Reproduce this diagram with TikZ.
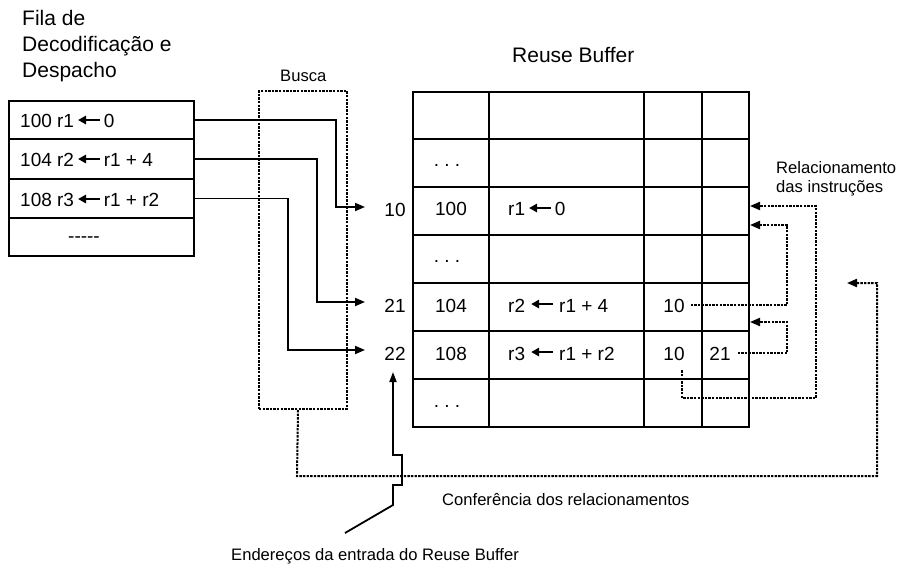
\documentclass[tikz,border=0pt]{standalone}
\usepackage{fontspec}
\setmainfont{Liberation Sans}
\usetikzlibrary{arrows.meta}
\newcommand\larr{\tikz[baseline=-0.42em]\draw[line width=1.7pt,-{Triangle[length=8pt,width=8.5pt]}] (1.15em,0)--(0,0);}
\tikzset{
  tbl/.style={line width=2pt},
  conn/.style={line width=1.8pt,-{Triangle[length=10pt,width=8pt]}},
  dotl/.style={line width=2pt,dash pattern=on 2.4pt off 1.2pt},
  dotarr/.style={dotl,-{Triangle[length=10pt,width=8pt]}},
  lbl/.style={font=\fontsize{16.6}{19.5}\selectfont,inner sep=0},
  cell/.style={font=\fontsize{19}{22}\selectfont,inner sep=0},
  ttl/.style={font=\fontsize{21}{26}\selectfont,inner sep=0},
  qrow/.style={draw,tbl,anchor=north west,minimum width=185,inner sep=0},
}
\begin{document}
\begin{tikzpicture}[x=1pt,y=-1pt]
\useasboundingbox (0,0) rectangle (899,569);
% titles
\node[ttl,align=left,anchor=north west] (fila) at (22,10) {Fila de\\Decodificação e\\Despacho};
\node[lbl,anchor=base west] (busl) at (280,82) {Busca};
\node[ttl,anchor=base west] (rbt) at (512,63) {Reuse Buffer};
\node[lbl,align=left,anchor=north west] (rel) at (776,161) {Relacionamento\\das instruções};
\node[lbl,anchor=base west] (conf) at (442,505) {Conferência dos relacionamentos};
\node[lbl,anchor=base west] (endr) at (231,560) {Endereços da entrada do Reuse Buffer};

% queue
\node[qrow,minimum height=38] (q1) at (8,100) {};
\node[qrow,minimum height=40] (q2) at (8,138) {};
\node[qrow,minimum height=39] (q3) at (8,178) {};
\node[qrow,minimum height=38] (q4) at (8,217) {};
\node[cell,anchor=base west] (q1t) at (20,128) {100 r1\,\larr\hspace{3pt}0};
\node[cell,anchor=base west] (q2t) at (20,167) {104 r2\,\larr\hspace{3pt}r1 + 4};
\node[cell,anchor=base west] (q3t) at (20,207) {108 r3\,\larr\hspace{3pt}r1 + r2};
\node[cell,anchor=base] (q4t) at (84,243) {-{}-{}-{}-{}-};

% busca box
\node[dotl,draw,anchor=north west,minimum width=88,minimum height=318,inner sep=0] (busca) at (258,90) {};

% reuse buffer table
\draw[tbl] (413,92) rectangle (749,427);
\foreach \yy in {139,187,235,283,331,379} \draw[tbl] (413,\yy) -- (749,\yy);
\foreach \xx in {489,644,702} \draw[tbl] (\xx,92) -- (\xx,427);

% entry addresses
\node[cell,anchor=base] (l10) at (395,217) {10};
\node[cell,anchor=base] (l21) at (395,312) {21};
\node[cell,anchor=base] (l22) at (395,360) {22};

% table contents
\node[cell,anchor=base] (d2) at (447,167) {.\ .\ .};
\node[cell,anchor=base] (c31) at (451,216) {100};
\node[cell,anchor=base west] (c32) at (508,216) {r1\,\larr\hspace{3pt}0};
\node[cell,anchor=base] (d4) at (447,262) {.\ .\ .};
\node[cell,anchor=base] (c51) at (451,312) {104};
\node[cell,anchor=base west] (c52) at (508,312) {r2 \larr{} r1 + 4};
\node[cell,anchor=base] (c53) at (674,312) {10};
\node[cell,anchor=base] (c61) at (451,360) {108};
\node[cell,anchor=base west] (c62) at (508,360) {r3 \larr{} r1 + r2};
\node[cell,anchor=base] (c63) at (674,360) {10};
\node[cell,anchor=base] (c64) at (720,360) {21};
\node[cell,anchor=base] (d7) at (447,407) {.\ .\ .};

% arrow end coordinates
\coordinate (a10) at (365,207);
\coordinate (a21) at (365,302);
\coordinate (a22) at (365,350);
\coordinate (tD1) at (750,225);
\coordinate (tD2) at (750,322);
\coordinate (tD3) at (750,206);
\coordinate (tD4) at (847,283);
\coordinate (tE) at (393,372);
\coordinate (sE) at (345,533);

% queue -> buffer connectors
\draw[conn] (q1.east) -| (336,207) -- (a10);
\draw[conn] (q2.east) -| (317,302) -- (a21);
\draw[conn] (q3.east) -| (288,350) -- (a22);

% relationship dotted connectors
\draw[dotarr] ([xshift=6pt]c53.east) -| (787,225) -- (tD1);
\draw[dotarr] ([xshift=7pt]c64.east) -| (787,322) -- (tD2);
\draw[dotarr] ([shift={(8,10)}]c63.south) -- (682,398) -| (816,206) -- (tD3);
\draw[dotarr] ([xshift=-5pt]busca.south) -- (297,476) -| (877,283) -- (tD4);

% address pointer
\draw[line width=1.8pt,-{Triangle[length=10pt,width=7pt]}] (sE) -- (393,505) -- (393,485) -- (402,485) -- (402,455) -- (393,455) -- (tE);
\end{tikzpicture}
\end{document}
